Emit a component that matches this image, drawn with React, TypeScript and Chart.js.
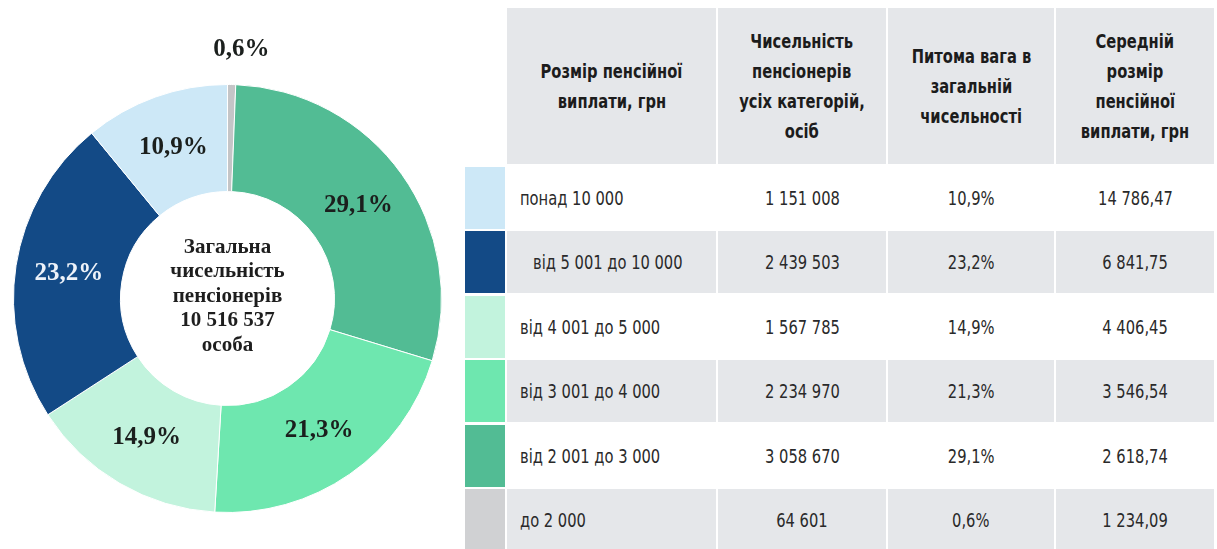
import React, { useEffect, useRef } from "react";
import { Chart, registerables } from "chart.js";

Chart.register(...registerables);

// ---- Data (table order) ----
const categories = [
  "понад 10 000",
  "від 5 001 до 10 000",
  "від 4 001 до 5 000",
  "від 3 001 до 4 000",
  "від 2 001 до 3 000",
  "до 2 000",
];
const pensioners = [1151008, 2439503, 1567785, 2234970, 3058670, 64601];
const shares = [10.9, 23.2, 14.9, 21.3, 29.1, 0.6];
const avgPayments = [14786.47, 6841.75, 4406.45, 3546.54, 2618.74, 1234.09];
const colors = ["#CDE8F7", "#134A86", "#C2F3DD", "#6EE7AF", "#52BC94", "#C4C5C7"];
const squareColors = ["#CDE8F7", "#134A86", "#C2F3DD", "#6EE7AF", "#52BC94", "#D0D1D3"];
const headers = [
  "Розмір пенсійної\nвиплати, грн",
  "Чисельність\nпенсіонерів\nусіх категорій,\nосіб",
  "Питома вага в\nзагальній\nчисельності",
  "Середній\nрозмір\nпенсійної\nвиплати, грн",
];
const centerTitle = ["Загальна", "чисельність", "пенсіонерів"];
const centerUnit = "особа";

const groupInt = (n: number) => String(Math.trunc(n)).replace(/\B(?=(\d{3})+(?!\d))/g, " ");
const fmtMoney = (n: number) => {
  const [i, d] = n.toFixed(2).split(".");
  return groupInt(Number(i)) + "," + d;
};
const fmtShare = (n: number) => n.toFixed(1).replace(".", ",") + "%";

// chart runs clockwise from the top in reverse table order
const chartOrder = [5, 4, 3, 2, 1, 0];

const sliceLabelPlugin = {
  id: "sliceLabels",
  afterDatasetsDraw(chart: any) {
    const ctx = chart.ctx;
    const meta = chart.getDatasetMeta(0);
    ctx.save();
    ctx.textAlign = "center";
    ctx.textBaseline = "middle";
    ctx.font = "bold 25px 'Liberation Serif', 'Times New Roman', serif";
    meta.data.forEach((arc: any, i: number) => {
      const idx = chartOrder[i];
      const p = arc.getProps(["x", "y", "startAngle", "endAngle", "innerRadius", "outerRadius"], true);
      const mid = (p.startAngle + p.endAngle) / 2;
      const small = shares[idx] < 2;
      const r = small ? p.outerRadius + 35 : (p.innerRadius + p.outerRadius) / 2;
      const tx = p.x + Math.cos(mid) * r + (small ? 9 : 0);
      const ty = p.y + Math.sin(mid) * r;
      ctx.fillStyle = idx === 1 ? "#EEF3FA" : "#1B1F1D";
      ctx.fillText(fmtShare(shares[idx]), tx, ty);
    });
    // center text
    const a0 = meta.data[0];
    const cx = a0.x;
    const cy = a0.y;
    const total = pensioners.reduce((s, v) => s + v, 0);
    const lines = [...centerTitle, groupInt(total), centerUnit];
    const lh = 24.5;
    ctx.font = "bold 21px 'Liberation Serif', 'Times New Roman', serif";
    ctx.fillStyle = "#1E1E1E";
    lines.forEach((t, k) => {
      ctx.fillText(t, cx, cy - 2 + (k - (lines.length - 1) / 2) * lh);
    });
    ctx.restore();
  },
};

function Doughnut() {
  const ref = useRef<HTMLCanvasElement>(null);
  useEffect(() => {
    if (!ref.current) return;
    const chart = new Chart(ref.current, {
      type: "doughnut",
      data: {
        labels: chartOrder.map((i) => categories[i]),
        datasets: [
          {
            data: chartOrder.map((i) => pensioners[i]),
            backgroundColor: chartOrder.map((i) => colors[i]),
            borderColor: "#FFFFFF",
            borderWidth: 1,
          },
        ],
      },
      options: {
        animation: false,
        responsive: false,
        cutout: "50%",
        rotation: 0,
        layout: { padding: { left: 13, right: 12, top: 84, bottom: 36 } },
        plugins: { legend: { display: false }, tooltip: { enabled: false } },
      },
      plugins: [sliceLabelPlugin],
    });
    return () => chart.destroy();
  }, []);
  return <canvas ref={ref} width={454} height={549} style={{ position: "absolute", left: 0, top: 0 }} />;
}

const tableFont = "'DejaVu Sans Condensed', 'DejaVu Sans', sans-serif";
const grayBg = "#E5E7EA";

const Narrow = ({ children, origin = "center" }: { children: React.ReactNode; origin?: string }) => (
  <span style={{ display: "inline-block", transform: "scaleX(0.86)", transformOrigin: origin }}>{children}</span>
);

function Table() {
  const cols = "40px 209px 168px 166px 158px";
  const cell = (content: React.ReactNode, bg: string, extra: React.CSSProperties = {}) => ({
    content,
    style: {
      background: bg,
      display: "flex",
      alignItems: "center",
      justifyContent: "center",
      ...extra,
    } as React.CSSProperties,
  });
  const items: { content: React.ReactNode; style: React.CSSProperties }[] = [];
  items.push(cell(null, "transparent"));
  headers.forEach((h) =>
    items.push(
      cell(
        h.split("\n").map((l, k) => (
          <div key={k}>
            <Narrow>{l}</Narrow>
          </div>
        )),
        grayBg,
        { flexDirection: "column", fontWeight: 700, color: "#1C1C1C", lineHeight: "30px", fontSize: "19px", textAlign: "center" }
      )
    )
  );
  categories.forEach((c, r) => {
    const bg = r % 2 === 1 ? grayBg : "#FFFFFF";
    const textStyle = { fontSize: "19px", color: "#2A2A2A" };
    items.push(cell(null, squareColors[r]));
    items.push(
      cell(<Narrow origin="left center">{c}</Narrow>, bg, {
        ...textStyle,
        justifyContent: "flex-start",
        paddingLeft: r === 1 ? "26px" : "13px",
      })
    );
    items.push(cell(<Narrow>{groupInt(pensioners[r])}</Narrow>, bg, textStyle));
    items.push(cell(<Narrow>{fmtShare(shares[r])}</Narrow>, bg, textStyle));
    items.push(cell(<Narrow>{fmtMoney(avgPayments[r])}</Narrow>, bg, textStyle));
  });
  return (
    <div
      style={{
        position: "absolute",
        left: 465,
        top: 8,
        display: "grid",
        gridTemplateColumns: cols,
        gridTemplateRows: "156px repeat(6, 62px)",
        columnGap: "2px",
        rowGap: "2.5px",
        fontFamily: tableFont,
        whiteSpace: "nowrap",
      }}
    >
      {items.map((it, k) => (
        <div key={k} style={it.style}>
          {it.content}
        </div>
      ))}
    </div>
  );
}

export default function App() {
  return (
    <div style={{ position: "absolute", left: 0, top: 0, width: 1217, height: 549, overflow: "hidden", background: "#FFFFFF" }}>
      <Doughnut />
      <Table />
    </div>
  );
}
